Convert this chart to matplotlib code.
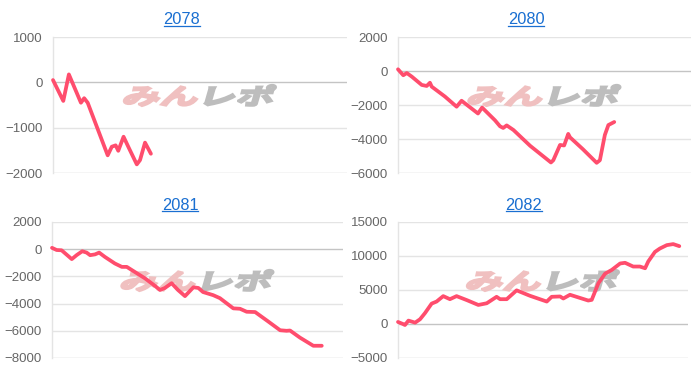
import matplotlib
matplotlib.use("Agg")
import matplotlib.pyplot as plt
import matplotlib.transforms as mtransforms
from matplotlib.textpath import TextPath
from matplotlib.patches import PathPatch
from matplotlib.font_manager import FontProperties
from matplotlib.lines import Line2D
import numpy as np

# ---------------- data ----------------
titles = ["2078", "2080", "2081", "2082"]

x_2078 = [0, 3.5, 5.4, 9.5, 10.6, 11.8, 18.6, 20.0, 21.3, 22.2, 24.0, 25.6, 28.5, 29.6, 31.3, 33.3]
y_2078 = [50, -410, 175, -450, -350, -450, -1610, -1420, -1390, -1510, -1200, -1420, -1810, -1715, -1330, -1575]

x_2080 = [0, 1.8, 3.0, 4.7, 8.1, 9.8, 10.9, 11.5, 16.0, 20.0, 21.7, 27.3, 28.7, 33.1, 34.8, 35.9,
          37.1, 39.4, 45.1, 52.2, 53.0, 55.3, 56.7, 58.1, 58.7, 63.1, 67.8, 68.9, 70.6, 71.8, 73.8]
y_2080 = [100, -250, -120, -330, -820, -880, -690, -920, -1500, -2100, -1750, -2500, -2150, -2900, -3250, -3350,
          -3200, -3470, -4400, -5380, -5250, -4350, -4380, -3700, -3900, -4600, -5400, -5250, -3760, -3180, -3000]

x_2081 = [0, 1.6, 3.3, 6.8, 8.5, 10.4, 11.9, 13.1, 14.8, 16.2, 18.2, 21.6, 24.0, 25.7, 32.0, 35.4, 37.1,
          38.8, 41.1, 43.3, 45.7, 48.6, 50.3, 51.9, 55.4, 57.7, 62.3, 64.6, 66.9, 69.8, 74.2, 78.4, 80.6,
          81.8, 85.2, 89.8, 92.7]
y_2081 = [100, -60, -80, -730, -430, -150, -250, -440, -380, -250, -570, -1050, -1300, -1300, -2150, -2700, -3000,
          -2850, -2500, -3000, -3450, -2800, -2850, -3150, -3380, -3600, -4350, -4380, -4600, -4620, -5300, -5960, -6000,
          -5980, -6500, -7100, -7100]

x_2082 = [0, 1.7, 2.4, 3.6, 5.9, 7.6, 9.3, 11.6, 13.3, 15.6, 17.9, 20.2, 23.8, 27.7, 30.6, 34.0, 35.2, 37.5,
          40.9, 45.5, 51.3, 53.0, 55.9, 57.0, 59.3, 65.6, 66.8, 69.1, 71.4, 73.7, 76.6, 78.3, 81.1, 83.4, 85.2,
          86.3, 88.6, 90.3, 92.7, 94.9, 97.0]
y_2082 = [300, 0, -150, 500, 200, 700, 1600, 3000, 3300, 4100, 3650, 4100, 3500, 2800, 3050, 4000, 3650, 3650,
          4950, 4150, 3300, 4000, 4050, 3750, 4300, 3450, 3550, 6000, 7400, 7950, 8900, 9000, 8450, 8450, 8200,
          9200, 10600, 11100, 11600, 11750, 11450]

xs = [x_2078, x_2080, x_2081, x_2082]
ys = [y_2078, y_2080, y_2081, y_2082]
ylims = [(-2000, 1000), (-6000, 2000), (-8000, 2000), (-5000, 15000)]
ysteps = [1000, 2000, 2000, 5000]

# ---------------- layout ----------------
W, H = 700, 372
fig = plt.figure(figsize=(W / 100, H / 100), dpi=100)
fig.patch.set_facecolor("white")

boxes = [(53, 37, 347, 173), (398, 37, 691, 173), (52, 222, 343, 358), (398, 222, 688, 358)]
title_pos = [(182, 24), (526, 24), (180, 209.5), (524, 209.5)]

line_color = "#ff4d6d"
tick_font = FontProperties(family="Liberation Sans", size=9.5)
title_font = FontProperties(family="Liberation Sans", size=11.8)
wm_font = FontProperties(family="Noto Sans CJK JP", weight="bold")

axes = []
for i in range(4):
    l, t, r, b = boxes[i]
    ax = fig.add_axes([l / W, 1 - b / H, (r - l) / W, (b - t) / H])
    axes.append(ax)
    lo, hi = ylims[i]
    ax.set_xlim(0, 100)
    ax.set_ylim(lo, hi)
    ticks = np.arange(lo, hi + 1, ysteps[i])
    ax.set_yticks(ticks)
    ax.set_xticks([])
    for tv in ticks:
        if tv == 0:
            c = "#c4c4c4"
        elif tv == lo:
            c = "#cfcfcf"
        else:
            c = "#e4e4e4"
        ax.axhline(tv, color=c, lw=1.0, zorder=1)
    for s in ["top", "right", "bottom"]:
        ax.spines[s].set_visible(False)
    ax.spines["left"].set_color("#e4e4e4")
    ax.spines["left"].set_linewidth(1.0)
    ax.tick_params(axis="y", length=0, pad=7.5, labelcolor="#666666")
    for lab in ax.get_yticklabels():
        lab.set_fontproperties(tick_font)
    ax.plot(xs[i], ys[i], color=line_color, lw=2.7, solid_joinstyle="round",
            solid_capstyle="round", zorder=3, clip_on=False)

    tx, ty = title_pos[i]
    fig.text(tx / W, 1 - ty / H, titles[i], ha="center", va="baseline",
             fontproperties=title_font, color="#1a6fd1")

# ---------------- watermark ----------------
fig.canvas.draw()
p1 = TextPath((0, 0), "みん", size=1, prop=wm_font)
p2 = TextPath((2.0, 0), "レポ", size=1, prop=wm_font)
allv = np.vstack([p1.vertices, p2.vertices])
xmin, ymin = allv.min(axis=0)
xmax, ymax = allv.max(axis=0)
cx, cy = (xmin + xmax) / 2, (ymin + ymax) / 2
target_w, target_h = 150, 21
sx = target_w / (xmax - xmin)
sy = target_h / (ymax - ymin)
for ax in axes:
    X, Y = ax.transAxes.transform((0.495, 0.57))
    tr = (mtransforms.Affine2D().translate(-cx, -cy).scale(sx, sy)
          .skew_deg(16, 0).translate(X, Y))
    for p, col in [(p1, "#f0c0c0"), (p2, "#bdbdbd")]:
        patch = PathPatch(p, facecolor=col, edgecolor=col, lw=1.6, joinstyle="miter",
                          transform=tr, zorder=2)
        ax.add_artist(patch)

# ---------------- title underlines ----------------
fig.canvas.draw()
renderer = fig.canvas.get_renderer()
for t in fig.texts:
    bb = t.get_window_extent(renderer)
    x0, x1 = bb.x0, bb.x1
    _, yb = fig.transFigure.transform(t.get_position())
    yline = yb - 1.8
    fig.add_artist(Line2D([x0 / W, x1 / W], [yline / H, yline / H], transform=fig.transFigure,
                          color="#1a6fd1", lw=0.9))

fig.savefig("out.png", dpi=100)
